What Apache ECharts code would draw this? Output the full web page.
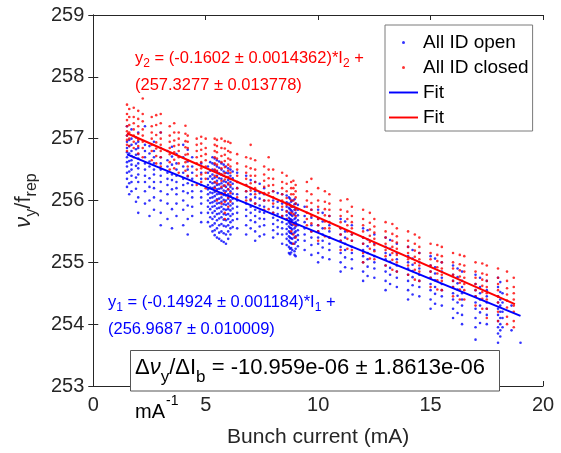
<!DOCTYPE html>
<html>
<head>
<meta charset="utf-8">
<script src="https://cdn.jsdelivr.net/npm/echarts@6/dist/echarts.min.js"></script>
<style>html,body{margin:0;padding:0;background:#fff;}#c{width:561px;height:453px;}</style>
</head>
<body>
<div id="c"></div>
<script>
// ---- data ----
const xTicks = [0, 5, 10, 15, 20];
const yTicks = [253, 254, 255, 256, 257, 258, 259];

// "All ID open": vertical stripes of points (bunch current, tune values)
const openX = [1.5, 1.7, 2.0, 2.3, 2.7, 3.0, 3.3, 3.7, 4.0, 4.4, 4.8, 5.1, 5.3, 5.5, 5.7, 5.9, 6.1, 6.4, 6.8, 7.2, 7.6, 8.0, 8.4, 8.7, 8.85, 9.0, 9.4, 10.0, 10.5, 11.0, 11.5, 12.0, 12.5, 13.0, 13.5, 14.0, 14.5, 15.0, 15.5, 16.0, 16.4, 17.0, 17.5, 18.0, 18.2, 18.6, 19.0];
const openY = [
  [257.2, 257.05, 256.95, 256.85, 256.78, 256.7, 256.62, 256.55, 256.45, 256.35, 256.22],
  [257.15, 257.0, 256.9, 256.8, 256.72, 256.65, 256.58, 256.5, 256.4, 256.3, 256.15],
  [257.1, 256.95, 256.85, 256.75, 256.68, 256.6, 256.52, 256.42, 256.3, 256.05, 255.8],
  [257.2, 256.9, 256.8, 256.7, 256.6, 256.5, 256.4, 256.3, 256.15, 255.95],
  [256.95, 256.8, 256.7, 256.6, 256.5, 256.42, 256.3, 256.2, 256.05, 255.85],
  [257.1, 256.85, 256.7, 256.6, 256.5, 256.4, 256.3, 256.15, 256.0, 255.8, 255.6],
  [256.8, 256.65, 256.55, 256.45, 256.35, 256.25, 256.1, 255.95, 255.7],
  [256.75, 256.6, 256.5, 256.4, 256.3, 256.2, 256.1, 255.95, 255.75],
  [256.9, 256.7, 256.55, 256.45, 256.35, 256.25, 256.15, 256.0, 255.85, 255.6],
  [256.7, 256.55, 256.45, 256.35, 256.25, 256.15, 256.05, 255.9, 255.75],
  [256.6, 256.45, 256.35, 256.25, 256.15, 256.05, 255.95, 255.8, 255.65],
  [256.55, 256.45, 256.35, 256.25, 256.18, 256.1, 256.0, 255.9, 255.8, 255.65],
  [256.7, 256.6, 256.5, 256.42, 256.35, 256.28, 256.2, 256.12, 256.05, 255.97, 255.9, 255.8, 255.7, 255.6, 255.5],
  [256.65, 256.55, 256.47, 256.4, 256.32, 256.25, 256.18, 256.1, 256.02, 255.95, 255.87, 255.78, 255.68, 255.55, 255.4],
  [256.6, 256.5, 256.42, 256.35, 256.28, 256.2, 256.12, 256.05, 255.98, 255.9, 255.82, 255.73, 255.62, 255.5, 255.35],
  [256.55, 256.45, 256.38, 256.3, 256.22, 256.15, 256.08, 256.0, 255.93, 255.85, 255.77, 255.68, 255.58, 255.45, 255.3],
  [256.5, 256.4, 256.3, 256.22, 256.15, 256.07, 256.0, 255.92, 255.84, 255.75, 255.65, 255.55, 255.45],
  [256.45, 256.3, 256.2, 256.1, 256.0, 255.9, 255.8, 255.7, 255.55],
  [256.4, 256.25, 256.15, 256.05, 255.95, 255.85, 255.75, 255.6, 255.45],
  [256.3, 256.15, 256.05, 255.95, 255.85, 255.75, 255.65, 255.5, 255.35],
  [256.2, 256.1, 256.0, 255.9, 255.8, 255.7, 255.6, 255.45],
  [256.15, 256.0, 255.9, 255.8, 255.72, 255.62, 255.52, 255.4],
  [256.1, 255.95, 255.85, 255.75, 255.65, 255.55, 255.45, 255.3],
  [256.05, 255.95, 255.88, 255.8, 255.72, 255.65, 255.58, 255.5, 255.42, 255.35, 255.25, 255.15],
  [256.0, 255.9, 255.82, 255.75, 255.68, 255.6, 255.53, 255.46, 255.38, 255.3, 255.2],
  [255.95, 255.87, 255.8, 255.72, 255.65, 255.58, 255.5, 255.42, 255.33, 255.22, 255.1],
  [255.9, 255.75, 255.65, 255.55, 255.45, 255.35, 255.2],
  [255.85, 255.7, 255.6, 255.5, 255.4, 255.3, 255.15, 255.0],
  [255.75, 255.6, 255.5, 255.4, 255.3, 255.2, 255.05],
  [255.7, 255.55, 255.45, 255.35, 255.25, 255.15, 255.0, 254.85],
  [255.6, 255.45, 255.35, 255.25, 255.15, 255.05, 254.9],
  [255.55, 255.4, 255.3, 255.2, 255.1, 255.0, 254.85, 254.7],
  [255.45, 255.3, 255.2, 255.1, 255.0, 254.9, 254.75],
  [255.4, 255.25, 255.15, 255.05, 254.95, 254.85, 254.7, 254.55],
  [255.3, 255.15, 255.05, 254.95, 254.85, 254.75, 254.6],
  [255.25, 255.1, 255.0, 254.9, 254.8, 254.7, 254.55, 254.4],
  [255.15, 255.0, 254.9, 254.8, 254.7, 254.6, 254.45],
  [255.1, 254.95, 254.85, 254.75, 254.65, 254.55, 254.4, 254.25],
  [255.0, 254.85, 254.75, 254.65, 254.55, 254.45, 254.3],
  [254.95, 254.8, 254.7, 254.6, 254.5, 254.4, 254.25, 254.1],
  [254.85, 254.7, 254.6, 254.5, 254.4, 254.3, 254.15, 254.0],
  [254.8, 254.65, 254.55, 254.45, 254.35, 254.25, 254.1, 253.95, 253.75],
  [254.7, 254.55, 254.45, 254.35, 254.25, 254.15, 254.0],
  [254.75, 254.6, 254.45, 254.35, 254.25, 254.15, 254.05, 253.95, 253.85, 253.7],
  [254.5, 254.35, 254.2, 254.1, 253.95],
  [254.3, 253.9],
  [253.7]
];
// more "All ID open" stripes read between the ones above
const openX2 = [1.6, 1.9, 2.5, 3.5, 4.2, 5.2, 5.4, 5.6, 5.8, 6.0, 6.2, 7.0, 7.4, 8.2, 8.6, 8.75, 8.8, 8.95, 9.1, 9.7, 10.2, 11.2, 12.2, 13.2, 14.2, 15.2, 16.2, 17.2, 18.1];
const openY2 = [
  [256.98, 256.88, 256.76, 256.64, 256.47, 256.28, 256.1],
  [257.02, 256.92, 256.83, 256.74, 256.56, 256.37, 256.19, 255.98],
  [256.88, 256.76, 256.63, 256.55, 256.36, 256.22, 256.0, 255.75],
  [256.87, 256.71, 256.58, 256.42, 256.33, 256.18, 255.86, 255.55],
  [256.82, 256.63, 256.5, 256.39, 256.28, 256.12, 255.92, 255.7, 255.45],
  [256.62, 256.48, 256.39, 256.3, 256.21, 256.13, 256.04, 255.96, 255.86, 255.73, 255.58],
  [256.68, 256.58, 256.49, 256.37, 256.29, 256.22, 256.14, 256.07, 255.99, 255.91, 255.83, 255.74, 255.63, 255.52, 255.44],
  [256.63, 256.53, 256.44, 256.36, 256.26, 256.19, 256.11, 256.03, 255.96, 255.88, 255.79, 255.71, 255.6, 255.48, 255.38],
  [256.58, 256.47, 256.4, 256.31, 256.24, 256.16, 256.09, 256.01, 255.94, 255.86, 255.78, 255.69, 255.59, 255.47, 255.33],
  [256.52, 256.44, 256.33, 256.26, 256.18, 256.1, 256.03, 255.95, 255.86, 255.78, 255.7, 255.6, 255.5, 255.38],
  [256.47, 256.36, 256.27, 256.19, 256.11, 256.03, 255.95, 255.87, 255.78, 255.68, 255.57],
  [256.33, 256.2, 256.1, 256.0, 255.9, 255.8, 255.68, 255.55],
  [256.27, 256.12, 256.03, 255.92, 255.82, 255.71, 255.58, 255.42],
  [256.12, 255.98, 255.88, 255.78, 255.68, 255.57, 255.46],
  [256.08, 255.97, 255.9, 255.83, 255.76, 255.69, 255.62, 255.54, 255.46, 255.38, 255.28],
  [256.03, 255.93, 255.86, 255.78, 255.7, 255.63, 255.56, 255.48, 255.4, 255.32, 255.22, 255.13],
  [255.98, 255.91, 255.84, 255.77, 255.69, 255.61, 255.55, 255.47, 255.39, 255.31, 255.23, 255.16],
  [256.02, 255.94, 255.85, 255.77, 255.7, 255.62, 255.55, 255.48, 255.4, 255.3, 255.18, 255.12],
  [255.93, 255.85, 255.76, 255.68, 255.6, 255.52, 255.44, 255.36, 255.26],
  [255.85, 255.72, 255.6, 255.5, 255.4, 255.28, 255.12],
  [255.8, 255.66, 255.55, 255.45, 255.35, 255.24, 255.08],
  [255.66, 255.5, 255.4, 255.3, 255.2, 255.08, 254.92],
  [255.52, 255.37, 255.26, 255.15, 255.05, 254.93, 254.78],
  [255.36, 255.22, 255.12, 255.01, 254.91, 254.8, 254.65],
  [255.2, 255.06, 254.96, 254.86, 254.76, 254.63, 254.48],
  [255.06, 254.92, 254.82, 254.71, 254.6, 254.49, 254.33],
  [254.9, 254.76, 254.66, 254.56, 254.46, 254.35, 254.18],
  [254.75, 254.6, 254.5, 254.4, 254.3, 254.19, 254.02],
  [254.68, 254.52, 254.4, 254.3, 254.2, 254.1, 254.0, 253.9, 253.8]
];

// "All ID closed"
const closedX = [1.5, 1.8, 2.2, 2.6, 3.0, 3.4, 3.8, 4.2, 4.6, 5.0, 5.4, 5.7, 6.0, 6.4, 6.8, 7.2, 7.6, 8.0, 8.4, 8.8, 9.0, 9.5, 10.0, 10.5, 11.0, 11.5, 12.0, 12.5, 13.0, 13.5, 14.0, 14.5, 15.0, 15.5, 16.0, 16.5, 17.0, 17.5, 18.0, 18.7];
const closedY = [
  [257.55, 257.4, 257.3, 257.2, 257.12, 257.05, 256.98, 256.9, 256.8],
  [257.5, 257.35, 257.25, 257.15, 257.05, 256.95, 256.85, 256.7],
  [257.65, 257.4, 257.28, 257.15, 257.05, 256.95, 256.85, 256.7],
  [257.35, 257.2, 257.1, 257.0, 256.9, 256.8, 256.65],
  [257.4, 257.25, 257.1, 257.0, 256.9, 256.8, 256.7, 256.55],
  [257.2, 257.05, 256.95, 256.85, 256.75, 256.62, 256.5],
  [257.1, 257.0, 256.9, 256.8, 256.7, 256.6, 256.45],
  [257.05, 256.95, 256.85, 256.75, 256.65, 256.55, 256.4],
  [257.0, 256.9, 256.8, 256.7, 256.6, 256.5, 256.4, 256.25],
  [257.0, 256.85, 256.75, 256.65, 256.55, 256.45, 256.35, 256.2],
  [257.0, 256.9, 256.8, 256.7, 256.6, 256.5, 256.4, 256.3, 256.2],
  [257.0, 256.85, 256.72, 256.62, 256.52, 256.42, 256.32, 256.22, 256.1, 255.95],
  [256.95, 256.8, 256.68, 256.58, 256.48, 256.38, 256.28, 256.18, 256.05, 255.9],
  [256.75, 256.6, 256.5, 256.4, 256.3, 256.2, 256.05],
  [256.7, 256.55, 256.45, 256.35, 256.25, 256.15, 256.0],
  [256.65, 256.5, 256.4, 256.3, 256.2, 256.1, 255.95],
  [256.55, 256.42, 256.32, 256.22, 256.12, 256.0, 255.85],
  [256.5, 256.35, 256.25, 256.15, 256.05, 255.95, 255.8],
  [256.45, 256.3, 256.2, 256.1, 256.0, 255.9, 255.75],
  [256.3, 256.2, 256.1, 256.0, 255.9, 255.8, 255.65, 255.5],
  [256.25, 256.15, 256.05, 255.95, 255.85, 255.75, 255.6, 255.4],
  [256.3, 256.15, 256.0, 255.9, 255.8, 255.7, 255.6],
  [256.2, 256.0, 255.9, 255.8, 255.7, 255.6, 255.5, 255.35],
  [256.1, 255.95, 255.85, 255.75, 255.65, 255.55, 255.4],
  [256.0, 255.85, 255.75, 255.65, 255.55, 255.45, 255.35, 255.2],
  [255.9, 255.75, 255.65, 255.55, 255.45, 255.35, 255.2],
  [255.85, 255.7, 255.6, 255.5, 255.4, 255.3, 255.15, 255.0],
  [255.7, 255.58, 255.48, 255.38, 255.28, 255.18, 255.05],
  [255.65, 255.5, 255.4, 255.3, 255.2, 255.1, 254.95],
  [255.55, 255.42, 255.32, 255.22, 255.12, 255.0, 254.85],
  [255.5, 255.35, 255.25, 255.15, 255.05, 254.95, 254.8],
  [255.4, 255.25, 255.15, 255.05, 254.95, 254.85, 254.7],
  [255.3, 255.15, 255.05, 254.95, 254.85, 254.75, 254.6],
  [255.25, 255.1, 255.0, 254.9, 254.8, 254.7, 254.55],
  [255.15, 255.0, 254.9, 254.8, 254.7, 254.6, 254.45],
  [255.1, 254.95, 254.85, 254.75, 254.65, 254.55, 254.4],
  [255.0, 254.85, 254.75, 254.65, 254.55, 254.45, 254.3],
  [254.95, 254.8, 254.7, 254.6, 254.5, 254.4, 254.25, 254.1],
  [254.9, 254.75, 254.65, 254.55, 254.45, 254.35, 254.2, 254.05],
  [254.75, 254.6, 254.5, 254.4, 254.3, 254.2, 254.05, 253.95]
];
// more "All ID closed" stripes
const closedX2 = [1.6, 2.0, 2.8, 3.6, 4.1, 4.8, 5.5, 5.85, 6.1, 7.0, 7.8, 8.6, 8.9, 9.7, 10.3, 11.3, 12.3, 13.3, 14.3, 15.3, 16.3, 17.3, 18.4];
const closedY2 = [
  [257.48, 257.35, 257.22, 257.1, 257.0, 256.88],
  [257.45, 257.32, 257.2, 257.08, 256.98, 256.88, 256.76],
  [257.38, 257.22, 257.06, 256.94, 256.84, 256.72, 256.6],
  [257.25, 257.1, 256.97, 256.88, 256.78, 256.66, 256.52],
  [257.21, 257.08, 256.96, 256.86, 256.74, 256.62, 256.48],
  [257.03, 256.92, 256.82, 256.72, 256.62, 256.52, 256.42, 256.3],
  [256.98, 256.88, 256.78, 256.68, 256.58, 256.48, 256.38, 256.28, 256.15, 256.0],
  [256.96, 256.84, 256.74, 256.64, 256.54, 256.44, 256.34, 256.24, 256.12, 255.98, 255.8, 255.7],
  [256.93, 256.78, 256.66, 256.55, 256.45, 256.35, 256.25, 256.12, 255.98],
  [256.9, 256.68, 256.52, 256.4, 256.28, 256.16, 256.02],
  [256.7, 256.5, 256.36, 256.24, 256.12, 256.0, 255.86],
  [256.4, 256.27, 256.15, 256.04, 255.93, 255.82, 255.7],
  [256.32, 256.2, 256.1, 256.0, 255.9, 255.78, 255.62, 255.45, 255.3],
  [256.35, 256.1, 255.96, 255.85, 255.75, 255.63, 255.5],
  [256.15, 255.98, 255.86, 255.76, 255.66, 255.55, 255.42],
  [256.02, 255.82, 255.7, 255.6, 255.5, 255.38, 255.22],
  [255.8, 255.64, 255.53, 255.43, 255.33, 255.22, 255.06],
  [255.62, 255.46, 255.35, 255.25, 255.15, 255.04, 254.88],
  [255.45, 255.3, 255.19, 255.09, 254.99, 254.88, 254.72],
  [255.28, 255.12, 255.02, 254.92, 254.82, 254.71, 254.56],
  [255.12, 254.97, 254.87, 254.77, 254.67, 254.56, 254.4],
  [254.98, 254.82, 254.72, 254.62, 254.52, 254.41, 254.25],
  [254.85, 254.7, 254.58, 254.48, 254.38, 254.27, 254.12, 254.0]
];

// Fit lines (end points)
const fitOpenX = [1.5, 19.0];
const fitOpenY = [256.745, 254.133];
const fitClosedX = [1.5, 18.75];
const fitClosedY = [257.088, 254.324];

// ---- build ----
function stripes(xs, ys) {
  const out = [];
  xs.forEach((x, i) => ys[i].forEach(y => out.push([x, y])));
  return out;
}
function pairs(xs, ys) { return xs.map((x, i) => [x, ys[i]]); }

const FONT = '"Liberation Sans", Arial, Helvetica, sans-serif';
const AX = '#262626';

const chart = echarts.init(document.getElementById('c'), null, { renderer: 'canvas' });

const axisCommon = {
  axisLine: { show: true, lineStyle: { color: AX, width: 1 } },
  axisTick: { show: true, inside: true, length: 5, lineStyle: { color: AX } },
  splitLine: { show: false }
};

chart.setOption({
  animation: false,
  backgroundColor: '#fff',
  textStyle: { fontFamily: FONT },
  grid: { left: 93, top: 15, right: 18, bottom: 62, containLabel: false },
  xAxis: [
    Object.assign({
      type: 'value', min: xTicks[0], max: xTicks[xTicks.length - 1], interval: 5, position: 'bottom',
      axisLabel: { fontSize: 20, color: AX, margin: 9, fontFamily: FONT },
      name: 'Bunch current (mA)', nameLocation: 'middle', nameGap: 41,
      nameTextStyle: { fontSize: 21, color: AX, fontFamily: FONT }
    }, axisCommon),
    Object.assign({
      type: 'value', min: xTicks[0], max: xTicks[xTicks.length - 1], interval: 5, position: 'top',
      axisLabel: { show: false }
    }, axisCommon)
  ],
  yAxis: [
    Object.assign({
      type: 'value', min: yTicks[0], max: yTicks[yTicks.length - 1], interval: 1, position: 'left',
      axisLabel: { fontSize: 20, color: AX, margin: 9, fontFamily: FONT },
      name: '{nu|ν}{sub|y}{m|/f}{sub|rep}', nameLocation: 'middle', nameGap: 47, nameRotate: 90,
      nameTextStyle: {
        color: AX, fontFamily: FONT,
        rich: {
          nu: { fontSize: 22, fontStyle: 'italic', color: AX, fontFamily: FONT, lineHeight: 24 },
          m: { fontSize: 22, color: AX, fontFamily: FONT, lineHeight: 24 },
          sub: { fontSize: 16, color: AX, fontFamily: FONT, lineHeight: 16, padding: [16, 0, 0, 0] }
        }
      }
    }, axisCommon),
    Object.assign({
      type: 'value', min: yTicks[0], max: yTicks[yTicks.length - 1], interval: 1, position: 'right',
      axisLabel: { show: false }
    }, axisCommon)
  ],
  legend: {
    orient: 'vertical', left: 385, top: 25,
    padding: [8, 4, 4, 4], itemGap: 6, itemWidth: 29, itemHeight: 3,
    backgroundColor: '#fff', borderColor: '#7a7a7a', borderWidth: 1, borderRadius: 0,
    textStyle: { fontSize: 19, color: '#000', fontFamily: FONT },
    data: [
      { name: 'All ID open', icon: 'circle' },
      { name: 'All ID closed', icon: 'circle' },
      { name: 'Fit', icon: 'path://M0,0 L30,0 L30,2 L0,2 Z' },
      { name: 'Fit\u200b', icon: 'path://M0,0 L30,0 L30,2 L0,2 Z' }
    ]
  },
  series: [
    {
      name: 'All ID open', type: 'scatter', symbol: 'circle', symbolSize: 2.6,
      itemStyle: { color: '#0000ff' }, data: stripes(openX, openY).concat(stripes(openX2, openY2)), z: 2
    },
    {
      name: 'All ID closed', type: 'scatter', symbol: 'circle', symbolSize: 2.6,
      itemStyle: { color: '#ff0000' }, data: stripes(closedX, closedY).concat(stripes(closedX2, closedY2)), z: 3
    },
    {
      name: 'Fit', type: 'line', symbol: 'none', data: pairs(fitOpenX, fitOpenY),
      lineStyle: { color: '#0000ff', width: 2 }, itemStyle: { color: '#0000ff' }, z: 4
    },
    {
      name: 'Fit\u200b', type: 'line', symbol: 'none', data: pairs(fitClosedX, fitClosedY),
      lineStyle: { color: '#ff0000', width: 2 }, itemStyle: { color: '#ff0000' }, z: 5
    }
  ],
  graphic: [
    {
      type: 'text', z: 10,
      style: {
        x: 135, y: 44.5, verticalAlign: 'top', align: 'left',
        text: '{m|y}{s|2}{m| = (-0.1602 ± 0.0014362)*I}{s|2}{m| +}\n{m|(257.3277 ± 0.013778)}',
        rich: {
          m: { fontSize: 16.5, fill: '#ff0000', fontFamily: FONT, lineHeight: 27 },
          s: { fontSize: 12, fill: '#ff0000', fontFamily: FONT, lineHeight: 12, padding: [12, 0, 0, 0] }
        }
      }
    },
    {
      type: 'text', z: 10,
      style: {
        x: 108, y: 288.5, verticalAlign: 'top', align: 'left',
        text: '{m|y}{s|1}{m| = (-0.14924 ± 0.001184)*I}{s|1}{m| +}\n{m|(256.9687 ± 0.010009)}',
        rich: {
          m: { fontSize: 16.5, fill: '#0000ff', fontFamily: FONT, lineHeight: 27 },
          s: { fontSize: 12, fill: '#0000ff', fontFamily: FONT, lineHeight: 12, padding: [12, 0, 0, 0] }
        }
      }
    },
    {
      type: 'rect', z: 10,
      shape: { x: 130.5, y: 350.5, width: 369, height: 40.5 },
      style: { fill: '#fff', stroke: '#555', lineWidth: 1 }
    },
    {
      type: 'text', z: 11,
      style: {
        x: 135, y: 368, verticalAlign: 'middle', align: 'left',
        text: '{m|Δ}{nu|ν}{s|y}{m|/ΔI}{s|b}{m| = -10.959e-06 ± 1.8613e-06}',
        rich: {
          m: { fontSize: 22, fill: '#000', fontFamily: FONT, lineHeight: 26 },
          nu: { fontSize: 22, fontStyle: 'italic', fill: '#000', fontFamily: FONT, lineHeight: 26 },
          s: { fontSize: 17, fill: '#000', fontFamily: FONT, lineHeight: 17, padding: [18, 0, 0, 0] }
        }
      }
    },
    {
      type: 'text', z: 11,
      style: {
        x: 135, y: 412, verticalAlign: 'middle', align: 'left',
        text: '{m|mA}{p|-1}',
        rich: {
          m: { fontSize: 20, fill: '#000', fontFamily: FONT, lineHeight: 22 },
          p: { fontSize: 14, fill: '#000', fontFamily: FONT, lineHeight: 14, padding: [0, 0, 22, 1] }
        }
      }
    }
  ]
});
</script>
</body>
</html>
